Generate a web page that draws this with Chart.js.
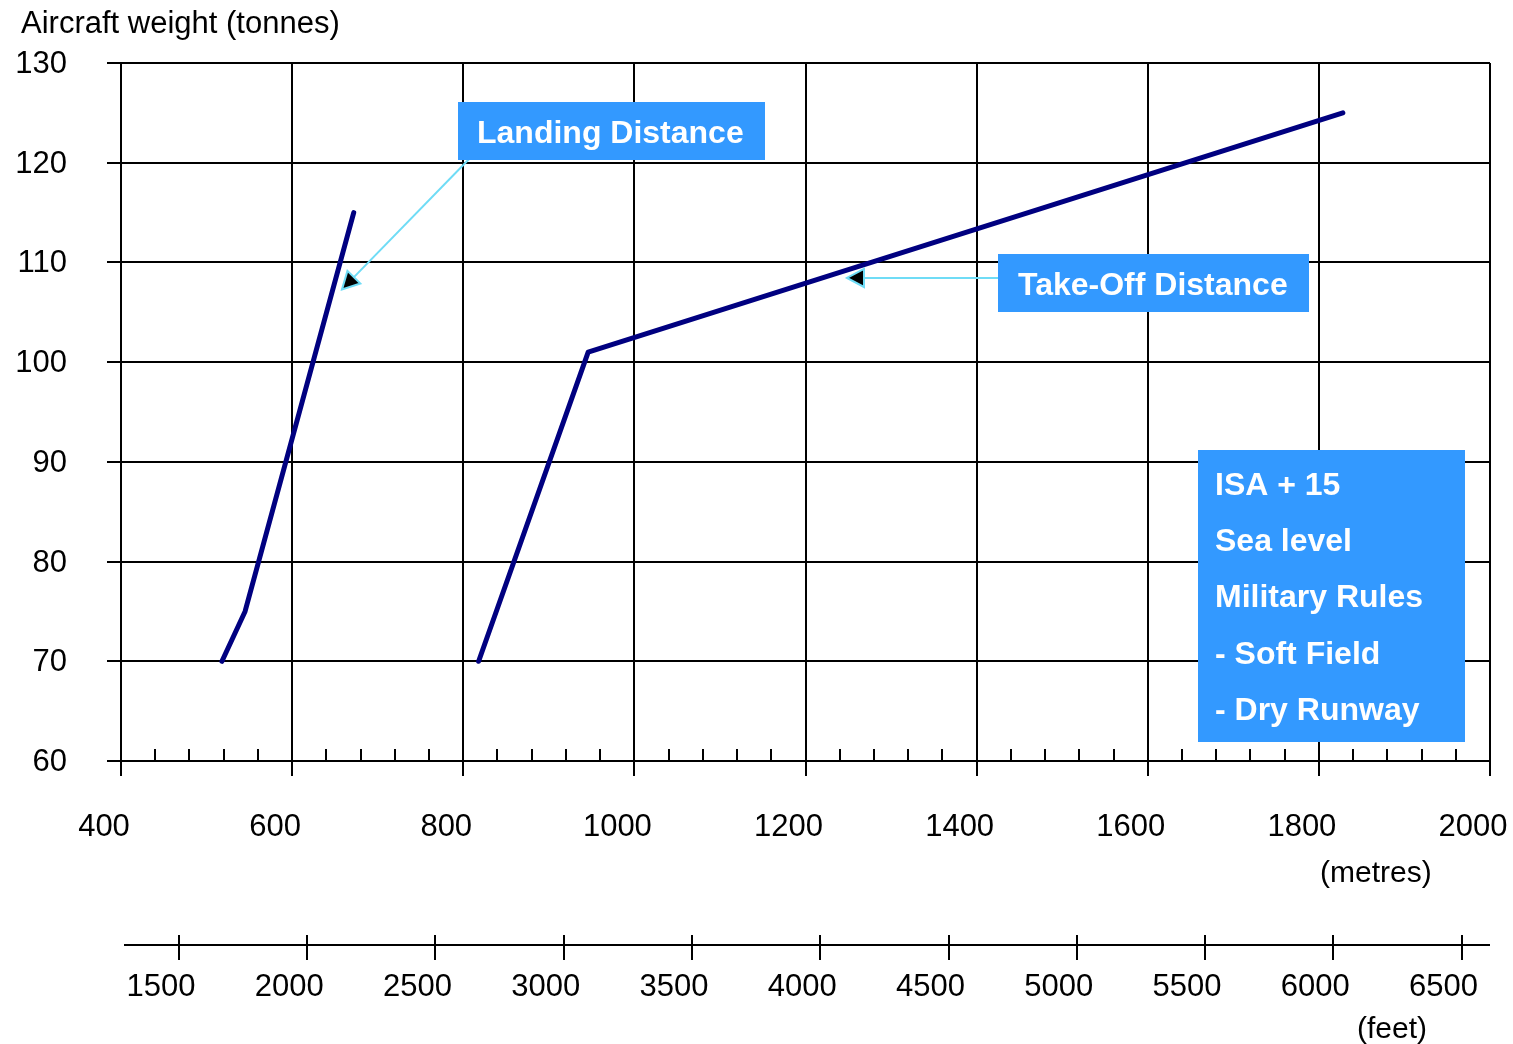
<!DOCTYPE html>
<html>
<head>
<meta charset="utf-8">
<title>Aircraft weight vs runway distance</title>
<script src="https://cdn.jsdelivr.net/npm/chart.js@4.4.1/dist/chart.umd.min.js"></script>
<style>
  html, body { margin: 0; padding: 0; background: #ffffff; }
  #wrap { width: 1513px; height: 1044px; }
</style>
</head>
<body>
<div id="wrap"><canvas id="chart" width="1513" height="1044"></canvas></div>
<script>
// Landing distance curve (metres vs tonnes)
const landingDistance = [518, 545, 672];
const landingWeight = [70, 75, 115];

// Take-off distance curve (metres vs tonnes)
const takeoffDistance = [818, 946, 1828];
const takeoffWeight = [70, 101, 125];

// Axis ticks
const weightTicks = [60, 70, 80, 90, 100, 110, 120, 130];
const metreTicks = [400, 600, 800, 1000, 1200, 1400, 1600, 1800, 2000];
const feetTicks = [1500, 2000, 2500, 3000, 3500, 4000, 4500, 5000, 5500, 6000, 6500];

// Text
const yTitle = 'Aircraft weight (tonnes)';
const metreUnit = '(metres)';
const feetUnit = '(feet)';
const landingLabel = 'Landing Distance';
const takeoffLabel = 'Take-Off Distance';
const conditionLines = ['ISA + 15', 'Sea level', 'Military Rules', '- Soft Field', '- Dry Runway'];

const FONT = '"Liberation Sans", Arial, Helvetica, sans-serif';
const BOX_BLUE = '#3399ff';
const ARROW_CYAN = '#6fdcf6';
const LINE_NAVY = '#000080';

function toPoints(xs, ys) {
  return xs.map((x, i) => ({ x: x, y: ys[i] }));
}

function fixedTicks(values) {
  return function (scale) {
    scale.ticks = values.map(v => ({ value: v }));
  };
}

const plainLabel = v => String(v);

// Callouts anchored in data space (metres, tonnes); sizes in pixels
const callouts = [
  { text: [landingLabel], at: { x: 794, y: 126.1 }, w: 307, h: 58, textX: 19, firstY: 32, step: 0,
    arrow: { from: { x: 816, y: 121.17 }, to: { x: 658.3, y: 107.3 } } },
  { text: [takeoffLabel], at: { x: 1425, y: 110.85 }, w: 311, h: 58, textX: 20, firstY: 32, step: 0,
    arrow: { from: { x: 1431, y: 108.44 }, to: { x: 1248.5, y: 108.44 } } },
  { text: conditionLines, at: { x: 1658.7, y: 91.19 }, w: 267, h: 292, textX: 17, firstY: 36, step: 56.25 }
];

function drawArrowHead(ctx, tip, from) {
  const ang = Math.atan2(tip.y - from.y, tip.x - from.x);
  const len = 17, half = 9;
  const bx = tip.x - Math.cos(ang) * len;
  const by = tip.y - Math.sin(ang) * len;
  const nx = -Math.sin(ang), ny = Math.cos(ang);
  ctx.beginPath();
  ctx.moveTo(tip.x, tip.y);
  ctx.lineTo(bx + nx * half, by + ny * half);
  ctx.lineTo(bx - nx * half, by - ny * half);
  ctx.closePath();
  ctx.fillStyle = '#000000';
  ctx.fill();
  ctx.strokeStyle = ARROW_CYAN;
  ctx.lineWidth = 2;
  ctx.stroke();
}

const decorations = {
  id: 'decorations',
  beforeDatasetsDraw(chart) {
    const ctx = chart.ctx;
    const x = chart.scales.x, x2 = chart.scales.x2;
    const area = chart.chartArea;
    ctx.save();
    ctx.strokeStyle = '#000000';
    ctx.lineWidth = 2;
    // minor ticks every 40 m along the metre axis
    for (let m = metreTicks[0] + 40; m < metreTicks[metreTicks.length - 1]; m += 40) {
      if (metreTicks.includes(m)) continue;
      const px = Math.round(x.getPixelForValue(m));
      ctx.beginPath();
      ctx.moveTo(px, area.bottom - 12);
      ctx.lineTo(px, area.bottom);
      ctx.stroke();
    }
    // feet axis line crossing its tick marks
    const fy = x2.top + 10;
    ctx.beginPath();
    ctx.moveTo(x2.left + 3, fy);
    ctx.lineTo(x2.right, fy);
    ctx.stroke();

    // axis captions
    ctx.fillStyle = '#000000';
    ctx.textBaseline = 'middle';
    ctx.textAlign = 'left';
    ctx.font = '31px ' + FONT;
    ctx.fillText(yTitle, 21, 24);
    ctx.font = '30px ' + FONT;
    ctx.fillText(metreUnit, 1320, 874);
    ctx.fillText(feetUnit, 1357, 1030);
    ctx.restore();
  },
  afterDatasetsDraw(chart) {
    const ctx = chart.ctx;
    const x = chart.scales.x, y = chart.scales.y;
    const px = p => ({ x: x.getPixelForValue(p.x), y: y.getPixelForValue(p.y) });
    ctx.save();
    callouts.forEach(c => {
      const tl = px(c.at);
      const bx = Math.round(tl.x), by = Math.round(tl.y);
      if (c.arrow) {
        const a = px(c.arrow.from), b = px(c.arrow.to);
        ctx.strokeStyle = ARROW_CYAN;
        ctx.lineWidth = 2;
        ctx.beginPath();
        ctx.moveTo(a.x, a.y);
        ctx.lineTo(b.x, b.y);
        ctx.stroke();
        drawArrowHead(ctx, b, a);
      }
      ctx.fillStyle = BOX_BLUE;
      ctx.fillRect(bx, by, c.w, c.h);
      ctx.fillStyle = '#ffffff';
      ctx.font = 'bold 32px ' + FONT;
      ctx.textAlign = 'left';
      ctx.textBaseline = 'middle';
      c.text.forEach((t, i) => ctx.fillText(t, bx + c.textX, by + c.firstY + i * c.step));
    });
    ctx.restore();
  }
};

Chart.defaults.font.family = FONT;
Chart.defaults.color = '#000000';

new Chart(document.getElementById('chart'), {
  type: 'scatter',
  data: {
    datasets: [
      { label: landingLabel, data: toPoints(landingDistance, landingWeight), showLine: true,
        borderColor: LINE_NAVY, backgroundColor: LINE_NAVY, borderWidth: 5, pointRadius: 0,
        borderCapStyle: 'round', borderJoinStyle: 'round', tension: 0, xAxisID: 'x', yAxisID: 'y' },
      { label: takeoffLabel, data: toPoints(takeoffDistance, takeoffWeight), showLine: true,
        borderColor: LINE_NAVY, backgroundColor: LINE_NAVY, borderWidth: 5, pointRadius: 0,
        borderCapStyle: 'round', borderJoinStyle: 'round', tension: 0, xAxisID: 'x', yAxisID: 'y' }
    ]
  },
  options: {
    responsive: false,
    animation: false,
    layout: { padding: { top: 63, right: 23, left: 0, bottom: 0 } },
    plugins: { legend: { display: false }, tooltip: { enabled: false }, title: { display: false } },
    scales: {
      x: {
        type: 'linear', position: 'bottom', weight: 0,
        min: 400, max: 2000,
        afterBuildTicks: fixedTicks(metreTicks),
        afterFit(s) { s.height = 174; s.paddingLeft = 0; s.paddingRight = 0; },
        grid: { color: '#000000', lineWidth: 2, tickLength: 15, drawTicks: true },
        border: { display: true, color: '#000000', width: 2 },
        ticks: { font: { size: 31 }, padding: 33, labelOffset: -17, maxRotation: 0, autoSkip: false,
                 callback: plainLabel }
      },
      x2: {
        type: 'linear', position: 'bottom', weight: 1,
        min: 1274, max: 6611,
        afterBuildTicks: fixedTicks(feetTicks),
        afterFit(s) { s.height = 109; s.paddingLeft = 0; s.paddingRight = 0; },
        grid: { color: '#000000', lineWidth: 2, tickLength: 25, drawTicks: true, drawOnChartArea: false },
        border: { display: false },
        ticks: { font: { size: 31 }, padding: 9, labelOffset: -18, maxRotation: 0, autoSkip: false,
                 callback: plainLabel }
      },
      y: {
        type: 'linear', position: 'left',
        min: 60, max: 130,
        afterBuildTicks: fixedTicks(weightTicks),
        afterFit(s) { s.width = 121; s.paddingTop = 0; s.paddingBottom = 0; },
        grid: { color: '#000000', lineWidth: 2, tickLength: 14, drawTicks: true },
        border: { display: true, color: '#000000', width: 2 },
        ticks: { font: { size: 31 }, padding: 40, labelOffset: 1.5, callback: plainLabel }
      }
    }
  },
  plugins: [decorations]
});
</script>
</body>
</html>
